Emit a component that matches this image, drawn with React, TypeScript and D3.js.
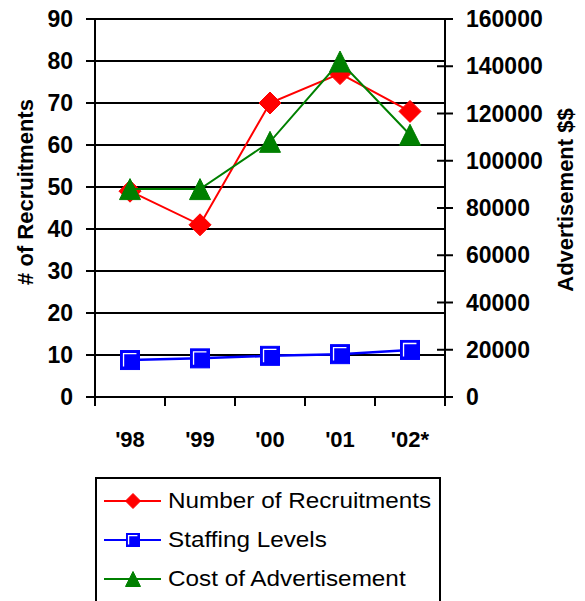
import React from "react";
import * as d3 from "d3";

// Yearly figures
const years = ["'98", "'99", "'00", "'01", "'02*"];
const recruitments = [49, 41, 70, 77, 68];
const staffing = [8.8, 9.2, 9.8, 10.2, 11.2];
const advertCost = [88000, 88000, 108000, 142000, 111000];

const leftTicks = [0, 10, 20, 30, 40, 50, 60, 70, 80, 90];
const rightTicks = [0, 20000, 40000, 60000, 80000, 100000, 120000, 140000, 160000];

const legendItems = [
  { label: "Number of Recruitments", color: "#ff0000", shape: "diamond" },
  { label: "Staffing Levels", color: "#0000ff", shape: "square" },
  { label: "Cost of Advertisement", color: "#008000", shape: "triangle" },
];

const FONT = "'Liberation Sans', Arial, Helvetica, sans-serif";

const W = 585;
const H = 601;
const plot = { left: 95, right: 445, top: 19, bottom: 397 };

function Marker({ shape, x, y, size, color }: { shape: string; x: number; y: number; size: number; color: string }) {
  const h = size / 2;
  if (shape === "diamond") {
    return (
      <path d={`M${x},${y - h}L${x + h},${y}L${x},${y + h}L${x - h},${y}Z`} fill={color} stroke={color} strokeWidth={1} />
    );
  }
  if (shape === "triangle") {
    return (
      <path d={`M${x},${y - h}L${x + h},${y + h}L${x - h},${y + h}Z`} fill={color} stroke={color} strokeWidth={1} />
    );
  }
  const inset = size * 0.16;
  return (
    <g>
      <rect x={x - h} y={y - h} width={size} height={size} fill={color} stroke={color} strokeWidth={1} />
      <path
        d={`M${x - h + inset},${y + h - inset}L${x - h + inset},${y - h + inset}L${x + h - inset},${y - h + inset}`}
        fill="none"
        stroke="#ffffff"
        strokeWidth={1.3}
      />
    </g>
  );
}

export default function App() {
  const x = d3.scaleBand<string>().domain(years).range([plot.left, plot.right]).padding(0);
  const yL = d3.scaleLinear().domain([0, 90]).range([plot.bottom, plot.top]);
  const yR = d3.scaleLinear().domain([0, 160000]).range([plot.bottom, plot.top]);
  const cx = (d: string) => (x(d) as number) + x.bandwidth() / 2;

  const lineL = d3
    .line<number>()
    .x((_, i) => cx(years[i]))
    .y((v) => yL(v));
  const lineR = d3
    .line<number>()
    .x((_, i) => cx(years[i]))
    .y((v) => yR(v));

  const catEdges = years.map((d) => x(d) as number).concat([plot.right]);

  return (
    <svg
      width={W}
      height={H}
      viewBox={`0 0 ${W} ${H}`}
      style={{ position: "absolute", left: 0, top: 0, background: "#ffffff" }}
      fontFamily={FONT}
    >
      {/* horizontal gridlines */}
      {leftTicks.map((t) => (
        <line key={`g${t}`} x1={plot.left} x2={plot.right} y1={yL(t)} y2={yL(t)} stroke="#000" strokeWidth={2} />
      ))}

      {/* axes */}
      <line x1={plot.left} x2={plot.left} y1={plot.top} y2={plot.bottom} stroke="#000" strokeWidth={2} />
      <line x1={plot.right} x2={plot.right} y1={plot.top} y2={plot.bottom} stroke="#000" strokeWidth={2} />

      {/* left ticks and labels */}
      {leftTicks.map((t) => (
        <g key={`l${t}`}>
          <line x1={plot.left - 9} x2={plot.left} y1={yL(t)} y2={yL(t)} stroke="#000" strokeWidth={2} />
          <text x={73} y={yL(t)} textAnchor="end" dominantBaseline="central" fontSize={23} fontWeight="bold">
            {t}
          </text>
        </g>
      ))}

      {/* right ticks and labels */}
      {rightTicks.map((t) => (
        <g key={`r${t}`}>
          <line
            x1={t === 160000 || t === 0 ? plot.right : plot.right - 8}
            x2={plot.right + 8}
            y1={yR(t)}
            y2={yR(t)}
            stroke="#000"
            strokeWidth={2}
          />
          <text x={466} y={yR(t)} textAnchor="start" dominantBaseline="central" fontSize={23} fontWeight="bold">
            {t}
          </text>
        </g>
      ))}

      {/* category ticks and labels */}
      {catEdges.map((e, i) => (
        <line key={`c${i}`} x1={e} x2={e} y1={plot.bottom} y2={plot.bottom + 9} stroke="#000" strokeWidth={2} />
      ))}
      {years.map((d) => (
        <text key={d} x={cx(d)} y={439} textAnchor="middle" dominantBaseline="central" fontSize={22} fontWeight="bold">
          {d}
        </text>
      ))}

      {/* axis titles */}
      <text
        transform="translate(25,192) rotate(-90)"
        textAnchor="middle"
        dominantBaseline="central"
        fontSize={22}
        fontWeight="bold"
      >
        # of Recruitments
      </text>
      <text
        transform="translate(565,200) rotate(-90)"
        textAnchor="middle"
        dominantBaseline="central"
        fontSize={22}
        fontWeight="bold"
      >
        Advertisement $$
      </text>

      {/* series */}
      <path d={lineL(recruitments) || ""} fill="none" stroke="#ff0000" strokeWidth={2} />
      {recruitments.map((v, i) => (
        <Marker key={`rm${i}`} shape="diamond" x={cx(years[i])} y={yL(v)} size={22} color="#ff0000" />
      ))}

      <path d={lineL(staffing) || ""} fill="none" stroke="#0000ff" strokeWidth={2.5} />
      {staffing.map((v, i) => (
        <Marker key={`sm${i}`} shape="square" x={cx(years[i])} y={yL(v)} size={19} color="#0000ff" />
      ))}

      <path d={lineR(advertCost) || ""} fill="none" stroke="#008000" strokeWidth={2} />
      {advertCost.map((v, i) => (
        <Marker key={`am${i}`} shape="triangle" x={cx(years[i])} y={yR(v)} size={21} color="#008000" />
      ))}

      {/* legend */}
      <rect x={96} y={478} width={344} height={140} fill="#ffffff" stroke="#000" strokeWidth={2} />
      {legendItems.map((item, i) => {
        const ly = 501 + i * 39;
        return (
          <g key={item.label}>
            <line x1={104} x2={161} y1={ly} y2={ly} stroke={item.color} strokeWidth={2} />
            <Marker shape={item.shape} x={133} y={ly} size={item.shape === "square" ? 13 : 15} color={item.color} />
            <text
              transform={`translate(168,${ly}) scale(1.13,1)`}
              dominantBaseline="central"
              fontSize={21.5}
            >
              {item.label}
            </text>
          </g>
        );
      })}
    </svg>
  );
}
